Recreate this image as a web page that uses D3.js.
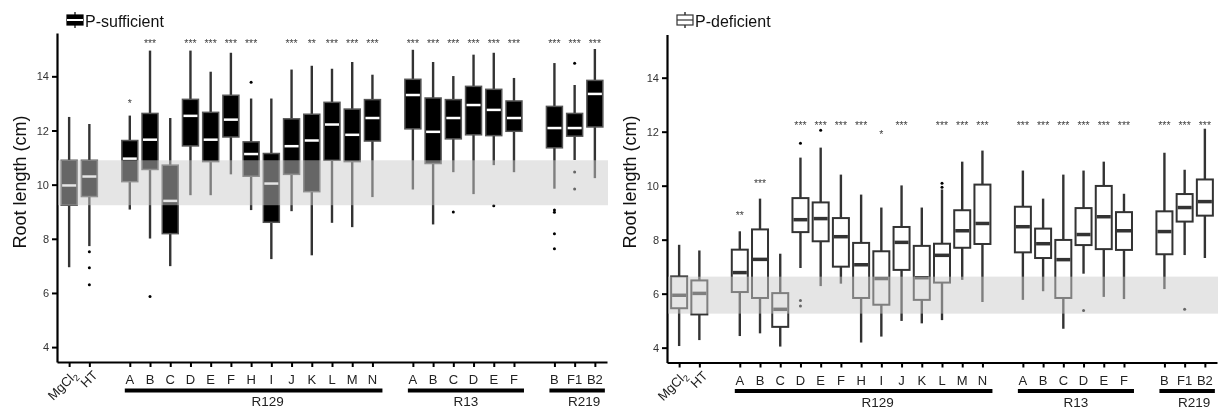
<!DOCTYPE html>
<html>
<head>
<meta charset="utf-8">
<script src="https://cdn.jsdelivr.net/npm/d3@7"></script>
<style>
  body { margin: 0; background: #fff; }
  svg { filter: grayscale(1); }
  text { font-family: "Liberation Sans", Arial, sans-serif; }
</style>
</head>
<body>
<script>
// categories along the x axis, grouped by strain
const controls = ["MgCl2", "HT"];
const r129 = ["A","B","C","D","E","F","H","I","J","K","L","M","N"];
const r13 = ["A","B","C","D","E","F"];
const r219 = ["B","F1","B2"];
const yTicks = [4, 6, 8, 10, 12, 14];

// box stats per category: [low whisker, q1, median, q3, high whisker]
const sufficientStats = [
  [6.95, 9.24, 9.97, 10.9, 12.5], [7.73, 9.56, 10.3, 10.9, 12.24],
  [9.08, 10.11, 10.96, 11.63, 12.55], [8.01, 10.56, 11.66, 12.63, 14.95],
  [6.99, 8.19, 9.4, 10.72, 12.46], [9.61, 11.43, 12.54, 13.15, 14.95],
  [9.61, 10.85, 11.66, 12.67, 14.17], [10.38, 11.76, 12.4, 13.3, 14.87],
  [9.06, 10.31, 11.13, 11.58, 13.18], [7.25, 8.61, 10.04, 11.15, 13.18],
  [9.02, 10.38, 11.42, 12.43, 14.25], [7.39, 9.74, 11.63, 12.6, 14.39],
  [8.59, 10.9, 12.22, 13.04, 14.28], [8.43, 10.85, 11.84, 12.79, 14.53],
  [9.54, 11.61, 12.46, 13.14, 14.06],
  [9.82, 12.06, 13.31, 13.89, 14.98], [8.53, 10.78, 11.95, 13.2, 14.53],
  [10.46, 11.69, 12.46, 13.14, 14.01], [9.65, 11.84, 12.94, 13.63, 14.8],
  [10.72, 11.81, 12.76, 13.52, 14.87], [10.46, 11.97, 12.46, 13.09, 13.94],
  [9.85, 11.36, 12.09, 12.89, 14.49], [10.91, 11.79, 12.09, 12.63, 13.68],
  [10.24, 12.13, 13.35, 13.85, 15.01]
];
const deficientStats = [
  [4.06, 5.46, 5.94, 6.64, 7.81], [4.28, 5.23, 6.01, 6.49, 7.6],
  [4.43, 6.06, 6.78, 7.63, 8.31], [4.53, 5.84, 7.27, 8.38, 9.52],
  [4.04, 4.77, 5.42, 6.02, 7.48], [6.95, 8.28, 8.74, 9.54, 11.04],
  [6.28, 7.94, 8.78, 9.38, 11.41], [6.37, 7.0, 8.11, 8.8, 10.41],
  [4.19, 5.84, 7.07, 7.88, 9.67], [4.41, 5.59, 6.56, 7.57, 9.19],
  [4.99, 6.88, 7.9, 8.47, 10.01], [4.9, 5.77, 6.59, 7.77, 9.19],
  [5.02, 6.41, 7.42, 7.85, 9.86], [6.51, 7.7, 8.33, 9.09, 10.89],
  [5.69, 7.84, 8.6, 10.04, 11.3],
  [5.77, 7.53, 8.48, 9.22, 10.56], [6.09, 7.32, 7.85, 8.41, 9.52],
  [4.7, 5.84, 7.26, 7.99, 10.41], [6.74, 7.8, 8.19, 9.17, 10.56],
  [5.88, 7.65, 8.85, 9.99, 10.89], [5.8, 7.62, 8.33, 9.02, 9.7],
  [6.17, 7.46, 8.3, 9.05, 11.22], [7.43, 8.67, 9.19, 9.69, 10.59],
  [7.32, 8.89, 9.41, 10.23, 12.11]
];

// outliers: [category index, value]
const sufficientOutliers = [[1,7.52],[1,6.93],[1,6.30],[3,5.87],[8,13.78],[17,8.99],[19,9.22],
  [21,9.06],[21,8.98],[21,8.19],[21,7.63],[22,14.48],[22,10.47],[22,9.84]];
const deficientOutliers = [[5,11.57],[5,5.75],[5,5.54],[6,12.05],[12,10.09],[12,9.94],[18,5.38],[22,5.42]];

// significance marks and the value they sit at
const sufficientSig = ["","","*","***","","***","***","***","***","","***","**","***","***","***",
  "***","***","***","***","***","***","***","***","***"];
const sufficientSigAt = [0,0,13.04,15.27,0,15.27,15.27,15.27,15.27,0,15.27,15.27,15.27,15.27,15.27,
  15.27,15.27,15.27,15.27,15.27,15.27,15.27,15.27,15.27];
const deficientSig = ["","","**","***","","***","***","***","***","*","***","","***","***","***",
  "***","***","***","***","***","***","***","***","***"];
const deficientSigAt = [0,0,8.94,10.15,0,12.3,12.3,12.3,12.3,11.94,12.3,0,12.3,12.3,12.3,
  12.3,12.3,12.3,12.3,12.3,12.3,12.3,12.3,12.3];

// control range bands (grey)
const sufficientBand = [9.24, 10.9];
const deficientBand = [5.26, 6.63];

const W = 1223, H = 409;
const svg = d3.select("body").append("svg").attr("width", W).attr("height", H);

// build unique keys with gap slots between groups
const groups = [
  {name: null, members: controls},
  {name: "R129", members: r129},
  {name: "R13", members: r13},
  {name: "R219", members: r219}
];
let slots = [], cats = [];
groups.forEach((g, gi) => {
  if (gi > 0) slots.push("gap" + gi);
  g.members.forEach(m => {
    const k = (g.name || "ctl") + "-" + m;
    slots.push(k);
    cats.push({key: k, label: m, group: g.name});
  });
});

const panels = [
  {title: "P-sufficient", stats: sufficientStats, outliers: sufficientOutliers, sig: sufficientSig,
   sigAt: sufficientSigAt, band: sufficientBand, x0: 57, x1: 607, yTop: 33, yBot: 362, filled: true},
  {title: "P-deficient", stats: deficientStats, outliers: deficientOutliers, sig: deficientSig,
   sigAt: deficientSigAt, band: deficientBand, x0: 667, x1: 1217, yTop: 34.5, yBot: 362.5, filled: false}
];

panels.forEach(p => {
  const g = svg.append("g");
  const x = d3.scalePoint().domain(slots).range([p.x0, p.x1]).padding(0.6);
  const y = d3.scaleLinear().domain([3.45, 15.6]).range([p.yBot, p.yTop]);
  const bw = 16;

  // axes
  const yAx = g.append("g").attr("transform", `translate(${p.x0},0)`)
    .call(d3.axisLeft(y).tickValues(yTicks).tickSize(5).tickSizeOuter(0).tickPadding(3));
  const xAx = g.append("g").attr("transform", `translate(0,${p.yBot})`)
    .call(d3.axisBottom(x).tickValues(cats.map(c => c.key)).tickSize(5).tickSizeOuter(0).tickFormat(""));
  [yAx, xAx].forEach(a => {
    a.select(".domain").attr("stroke", "#000").attr("stroke-width", 2.2);
    a.selectAll(".tick line").attr("stroke", "#000").attr("stroke-width", 2);
  });
  yAx.selectAll(".tick text").attr("font-size", 11).attr("fill", "#333")
    .style("font-family", "Liberation Sans, Arial, sans-serif");

  // y title
  g.append("text")
    .attr("transform", `translate(${p.x0 - 31},182) rotate(-90)`)
    .attr("text-anchor", "middle").attr("font-size", 18).attr("fill", "#111")
    .text("Root length (cm)");

  // x labels
  cats.forEach(c => {
    if (c.group === null) {
      const t = g.append("text")
        .attr("transform", `translate(${x(c.key) + 9},${p.yBot + 14}) rotate(-45)`)
        .attr("text-anchor", "end").attr("font-size", 13).attr("fill", "#222");
      if (c.label === "MgCl2") {
        t.append("tspan").text("MgCl");
        t.append("tspan").attr("font-size", 9).attr("dy", 3).text("2");
      } else t.text(c.label);
    } else {
      g.append("text").attr("x", x(c.key)).attr("y", p.yBot + 22)
        .attr("text-anchor", "middle").attr("font-size", 13).attr("fill", "#222").text(c.label);
    }
  });

  // group underlines + names
  const labelShift = {R129: 14, R13: 0, R219: 7};
  groups.filter(gr => gr.name).forEach(gr => {
    const a = x(gr.name + "-" + gr.members[0]) - 5;
    const b = x(gr.name + "-" + gr.members[gr.members.length - 1]) + 10;
    g.append("line").attr("x1", a).attr("x2", b)
      .attr("y1", p.yBot + 28.5).attr("y2", p.yBot + 28.5)
      .attr("stroke", "#000").attr("stroke-width", 4);
    g.append("text").attr("x", (a + b) / 2 + labelShift[gr.name]).attr("y", p.yBot + 44)
      .attr("text-anchor", "middle").attr("font-size", 13.5).attr("fill", "#222").text(gr.name);
  });

  // boxes
  const boxes = g.selectAll(".box").data(p.stats).enter().append("g")
    .attr("transform", (d, i) => `translate(${x(cats[i].key)},0)`);
  boxes.append("line").attr("x1", 0).attr("x2", 0)
    .attr("y1", d => y(d[0])).attr("y2", d => y(d[4]))
    .attr("stroke", "#333").attr("stroke-width", 2.4);
  boxes.append("rect").attr("x", -bw / 2).attr("width", bw)
    .attr("y", d => y(d[3])).attr("height", d => y(d[1]) - y(d[3]))
    .attr("fill", p.filled ? "#000" : "#fff")
    .attr("stroke", p.filled ? "#555" : "#333").attr("stroke-width", p.filled ? 1.5 : 2);
  boxes.append("line").attr("x1", -bw / 2 + 1).attr("x2", bw / 2 - 1)
    .attr("y1", d => y(d[2])).attr("y2", d => y(d[2]))
    .attr("stroke", p.filled ? "#fff" : "#333").attr("stroke-width", p.filled ? 2.5 : 3.5);

  // outliers
  g.selectAll(".out").data(p.outliers).enter().append("circle")
    .attr("cx", d => x(cats[d[0]].key)).attr("cy", d => y(d[1]))
    .attr("r", 1.5).attr("fill", "#000");

  // control band drawn over the boxes
  g.append("rect").attr("x", p.x0 + 1).attr("width", p.x1 - p.x0)
    .attr("y", y(p.band[1])).attr("height", y(p.band[0]) - y(p.band[1]))
    .attr("fill", "#ccc").attr("opacity", 0.5);

  // significance stars
  p.sig.forEach((s, i) => {
    if (!s) return;
    g.append("text").attr("x", x(cats[i].key)).attr("y", y(p.sigAt[i]) + 5)
      .attr("text-anchor", "middle").attr("font-size", 10.5).attr("fill", "#444").text(s);
  });

  // title with box icon
  const ix = p.x0 + 18;
  g.append("line").attr("x1", ix).attr("x2", ix).attr("y1", 12).attr("y2", 28)
    .attr("stroke", "#333").attr("stroke-width", 1.5);
  g.append("rect").attr("x", ix - 8).attr("y", 15).attr("width", 16).attr("height", 10)
    .attr("fill", p.filled ? "#000" : "#fff").attr("stroke", p.filled ? "#000" : "#333").attr("stroke-width", 1.2);
  g.append("line").attr("x1", ix - 8).attr("x2", ix + 8).attr("y1", 20).attr("y2", 20)
    .attr("stroke", p.filled ? "#fff" : "#333").attr("stroke-width", p.filled ? 2 : 1.2);
  g.append("text").attr("x", ix + 10).attr("y", 26.5).attr("font-size", 16).attr("fill", "#111").text(p.title);
});
</script>
</body>
</html>
